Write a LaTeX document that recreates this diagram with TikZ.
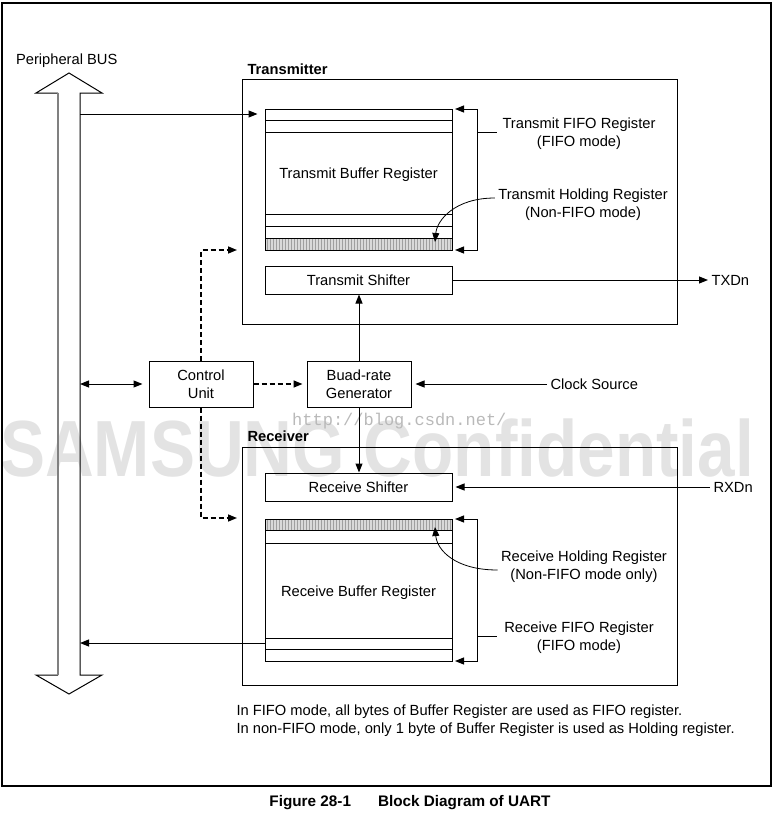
\documentclass[tikz,border=0pt]{standalone}
\usepackage{fontspec}
\setmainfont{Liberation Sans}
\newfontfamily\markfont{Liberation Mono}
\usepackage{graphicx}
\usetikzlibrary{arrows.meta,patterns,positioning,calc}

\tikzset{
	>={Triangle[length=9pt,width=7pt]},
	every node/.style={font=\fontsize{14.7}{18}\selectfont},
	boldlabel/.style={font=\bfseries\fontsize{14.7}{18}\selectfont, anchor=west},
	blockbox/.style={draw, line width=1pt, inner sep=0pt},
	unitbox/.style={draw, line width=1pt, inner sep=0pt, minimum width=104pt, minimum height=46pt, align=center},
	conn/.style={line width=1pt, ->},
	ctlconn/.style={line width=1.5pt, dash pattern=on 5pt off 3pt, ->},
	rowline/.style={line width=1pt},
	hatchrow/.style={fill=gray!30, postaction={pattern=vertical lines, pattern color=gray!75}},
	pointer/.style={line width=0.8pt, ->},
}

\begin{document}
\begin{tikzpicture}[x=1pt,y=-1pt]
	\useasboundingbox (0,0) rectangle (774,817);
	% watermarks
	\node[anchor=base west, inner sep=0pt, text=gray!22, font=\bfseries\fontsize{67.5}{68}\selectfont] (wmark) at (0,476) {\scalebox{1}[1.18]{SAMSUNG Confidential}};
	\node[anchor=base west, inner sep=0pt, text=gray!55, font=\markfont\fontsize{17}{17}\selectfont] (csdn) at (292,425) {http://blog.csdn.net/};
	
	% frame
	\draw[line width=1.3pt] (2,3) rectangle (771,786);
	
	% peripheral bus
	\node[anchor=west] (buslabel) at (12.5,61) {Peripheral BUS};
	\draw[line width=1pt] (58,93) -- (36,93) -- (69,73) -- (102,93) -- (80,93) -- (80,675) -- (102,675) -- (69,694) -- (36,675) -- (58,675);
	\draw[line width=1.5pt, gray] (58,93) -- (58,675);
	\coordinate (bustx) at (80,114);
	\coordinate (busctl) at (80,384);
	\coordinate (busrx) at (80,643);
	
	% transmitter
	\node[boldlabel] (txtitle) at (244,69) {Transmitter};
	\node[blockbox, minimum width=435pt, minimum height=245pt] (txblock) at (459.5,201.5) {};
	\fill[hatchrow] (265,238) rectangle (452,250);
	\node[blockbox, minimum width=187pt, minimum height=141pt] (txbuf) at (358.5,179.5) {};
	\foreach \y in {120,132,214,226,238}
		\draw[rowline] (265,\y) -- (452,\y);
	\node (txbuftext) at (358.5,175) {Transmit Buffer Register};
	\node[blockbox, minimum width=187pt, minimum height=28pt] (txshift) at (358.5,280) {Transmit Shifter};
	\coordinate (txholdrow) at (435,242);
	\draw[conn, shorten >=7pt] (bustx) -- (bustx -| txbuf.west);
	\draw[line width=1pt, <->] (455,109) -| (477,250) -- (455,250);
	\draw[rowline] (477,132) -- (497,132);
	\node[align=center] (txfifo) at (579,134) {Transmit FIFO Register\\(FIFO mode)};
	\node[align=center] (txhold) at (583,205) {Transmit Holding Register\\(Non-FIFO mode)};
	\draw[pointer] ($(txhold.west)+(0,-7)$) .. controls (455,198) and (437,220) .. (txholdrow);
	\node[anchor=west] (txd) at (708,280) {TXDn};
	\draw[conn] (txshift.east) -- (txd.west);
	
	% control unit and baud-rate generator
	\node[unitbox] (ctrl) at (201,384) {Control\\Unit};
	\node[unitbox] (baud) at (359,384) {Buad-rate\\Generator};
	\node[anchor=west] (clk) at (547,384) {Clock Source};
	\draw[line width=1pt, <->, shorten >=6pt] (busctl) -- (ctrl.west);
	\draw[ctlconn, shorten >=4pt] (ctrl.east) -- (baud.west);
	\draw[conn, shorten >=4pt] (clk.west) -- (baud.east);
	\draw[conn] (baud.north) -- (baud.north |- txshift.south);
	\coordinate (txctl) at (242,250);
	\coordinate (rxctl) at (242,518);
	\draw[ctlconn, shorten >=5pt] (ctrl.north) |- (txctl);
	\draw[ctlconn, shorten >=5pt] (ctrl.south) |- (rxctl);
	
	% receiver
	\node[boldlabel] (rxtitle) at (244,436) {Receiver};
	\node[blockbox, minimum width=435pt, minimum height=238pt] (rxblock) at (459.5,566) {};
	\node[blockbox, minimum width=187pt, minimum height=28pt] (rxshift) at (358.5,487) {Receive Shifter};
	\draw[conn] (baud.south) -- (baud.south |- rxshift.north);
	\fill[hatchrow] (265,519) rectangle (452,530);
	\node[blockbox, minimum width=187pt, minimum height=142pt] (rxbuf) at (358.5,590) {};
	\foreach \y in {530,543,638,649}
		\draw[rowline] (265,\y) -- (452,\y);
	\node (rxbuftext) at (358.5,593) {Receive Buffer Register};
	\coordinate (rxholdrow) at (435,527);
	\draw[line width=1pt, <->] (455,519) -| (477,661) -- (455,661);
	\draw[rowline] (477,636) -- (497,636);
	\node[align=center] (rxhold) at (584,567) {Receive Holding Register\\(Non-FIFO mode only)};
	\node[align=center] (rxfifo) at (579,638) {Receive FIFO Register\\(FIFO mode)};
	\draw[pointer] ($(rxhold.west)+(0,3)$) .. controls (455,570) and (437,550) .. (rxholdrow);
	\node[anchor=west] (rxd) at (710,487) {RXDn};
	\draw[conn, shorten >=3pt] (rxd.west) -- (rxshift.east);
	\draw[conn] (busrx -| rxbuf.west) -- (busrx);
	
	% notes and caption
	\node[anchor=west, align=left] (note) at (233,721) {In FIFO mode, all bytes of Buffer Register are used as FIFO register.\\In non-FIFO mode, only 1 byte of Buffer Register is used as Holding register.};
	\node[font=\bfseries\fontsize{15.3}{18}\selectfont] (caption) at (410,803) {Figure 28-1\hspace{27pt}Block Diagram of UART};
\end{tikzpicture}
\end{document}
